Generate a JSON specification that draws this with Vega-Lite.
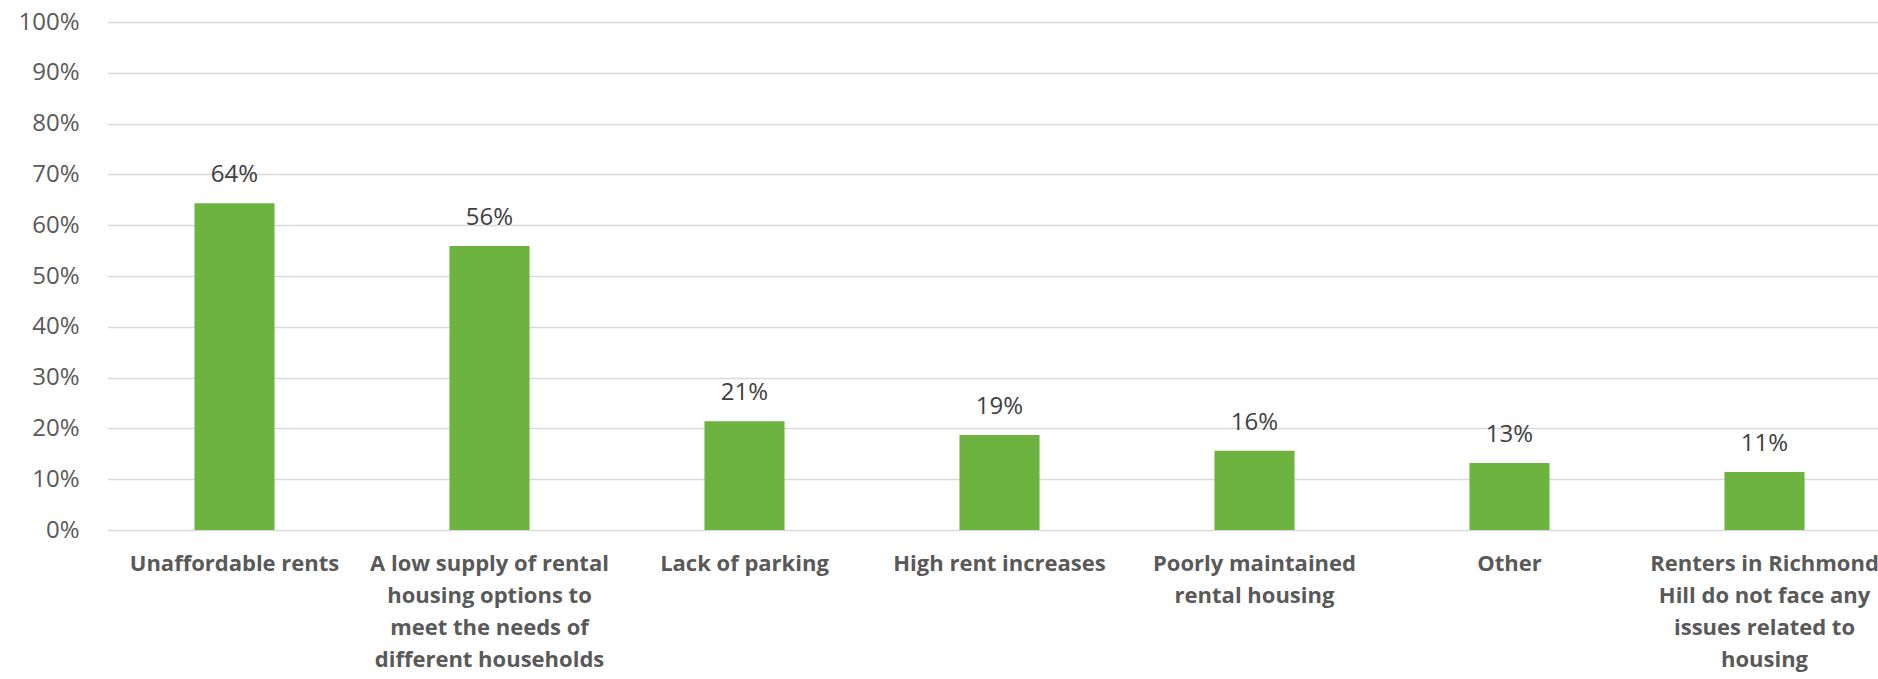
{
  "$schema": "https://vega.github.io/schema/vega-lite/v6.json",
  "autosize": {"type": "none"},
  "padding": {"left": 107, "top": 22, "right": 0, "bottom": 149},
  "width": 1771,
  "height": 508,
  "background": "white",
  "config": {"view": {"stroke": null}},
  "data": {
    "values": [
      {"issue": "Unaffordable rents", "share": 0.643},
      {"issue": "A low supply of rental housing options to meet the needs of different households", "share": 0.559},
      {"issue": "Lack of parking", "share": 0.214},
      {"issue": "High rent increases", "share": 0.187},
      {"issue": "Poorly maintained rental housing", "share": 0.156},
      {"issue": "Other", "share": 0.132},
      {"issue": "Renters in Richmond Hill do not face any issues related to housing", "share": 0.114}
    ]
  },
  "encoding": {
    "x": {
      "field": "issue",
      "type": "nominal",
      "sort": null,
      "scale": {"range": [0, 1785], "paddingInner": 0.686, "paddingOuter": 0.343},
      "axis": {
        "title": null,
        "domain": false,
        "ticks": false,
        "labelAngle": 0,
        "labelFont": "Open Sans",
        "labelFontWeight": "bold",
        "labelFontSize": 22,
        "labelColor": "#595959",
        "labelBaseline": "top",
        "labelPadding": 23,
        "labelLineHeight": 32,
        "labelLimit": 0,
        "labelOverlap": false,
        "labelExpr": "datum.value == 'A low supply of rental housing options to meet the needs of different households' ? ['A low supply of rental', 'housing options to', 'meet the needs of', 'different households'] : datum.value == 'Poorly maintained rental housing' ? ['Poorly maintained', 'rental housing'] : datum.value == 'Renters in Richmond Hill do not face any issues related to housing' ? ['Renters in Richmond', 'Hill do not face any', 'issues related to', 'housing'] : datum.value"
      }
    },
    "y": {
      "field": "share",
      "type": "quantitative",
      "scale": {"domain": [0, 1], "nice": false},
      "axis": {
        "title": null,
        "format": ".0%",
        "values": [0, 0.1, 0.2, 0.3, 0.4, 0.5, 0.6, 0.7, 0.8, 0.9, 1],
        "domain": false,
        "ticks": false,
        "grid": true,
        "gridColor": "#d9d9d9",
        "gridWidth": 1.5,
        "labelFont": "Open Sans",
        "labelFontSize": 24,
        "labelColor": "#595959",
        "labelPadding": 28
      }
    }
  },
  "layer": [
    {"mark": {"type": "bar", "color": "#6db33f"}},
    {
      "mark": {"type": "text", "baseline": "middle", "dy": -28, "font": "Open Sans", "fontSize": 24, "color": "#404040"},
      "encoding": {"text": {"field": "share", "type": "quantitative", "format": ".0%"}}
    }
  ]
}
